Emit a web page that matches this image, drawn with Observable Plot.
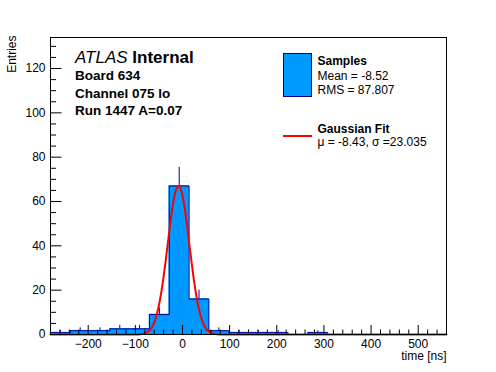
<!DOCTYPE html>
<html><head><meta charset="utf-8">
<script src="https://cdn.jsdelivr.net/npm/d3@7"></script>
<script src="https://cdn.jsdelivr.net/npm/@observablehq/plot@0.6"></script>
<style>
html,body{margin:0;padding:0;background:#fff;}
#chart{width:496px;height:372px;position:relative;}
svg{font-family:"Liberation Sans",Arial,Helvetica,sans-serif;}
</style></head><body><div id="chart"></div>
<script>
// Histogram bins (edges in ns) and contents
const binEdges = [-280,-238,-196,-154,-112,-70,-28,14,56,98,140,182,224,266,308,350,392,434,476,518,560];
const binCounts = [0.85,1.7,1.7,2.55,2.55,9,67,16,1.7,0.85,0.85,0.85,0,0.85,0,0,0,0,0,0];
const binErrors = [0.9,1.3,1.3,1.6,1.6,3,8.4,4,1.3,0.9,0.9,0.9,0,0.9,0,0,0,0,0,0];
// Gaussian fit curve
const fitX = [-280,-120,-100,-90,-80,-70,-65,-60,-55,-50,-45,-40,-35,-30,-25,-20,-15,-10,-8.43,-5,0,5,10,15,20,25,30,35,40,45,50,55,60,65,70,80,90,100,560];
const fitY = [0,0,0.03,0.13,0.54,1.88,3.29,5.47,8.67,13.2,19.0,26.2,34.4,43.2,51.7,59.1,64.3,66.8,67,66.3,62.7,56.5,48.6,39.9,31.3,23.4,16.7,11.3,7.35,4.55,2.68,1.51,0.81,0.42,0.2,0.04,0.01,0,0];
// Axis ticks
const xMajorTicks = [-200,-100,0,100,200,300,400,500];
const xMinorTicks = d3.range(-280, 561, 20).filter(v => v % 100 !== 0);
const yMajorTicks = [0,20,40,60,80,100,120];
const yMinorTicks = d3.range(0, 134, 5).filter(v => v % 20 !== 0);
// Texts
const atlasLines = ["Board 634","Channel 075 lo","Run 1447 A=0.07"];
const legendSamples = ["Samples","Mean = -8.52","RMS = 87.807"];
const legendFit = ["Gaussian Fit","μ = -8.43, σ =23.035"];

const fillColor = "#0099ff", lineColor = "#000099", fitColor = "#ff0000";
const W = 496, H = 372, mL = 50, mR = 50, mT = 37, mB = 38;
const fw = W - mL - mR, fh = H - mT - mB;

const bins = binCounts.map((c, i) => ({x1: binEdges[i], x2: binEdges[i+1], y: c, err: binErrors[i], xc: (binEdges[i] + binEdges[i+1]) / 2}));
const outline = [{x: binEdges[0], y: 0}, ...bins.map(b => ({x: b.x1, y: b.y})), {x: binEdges[binEdges.length-1], y: binCounts[binCounts.length-1]}, {x: binEdges[binEdges.length-1], y: 0}];
const fit = fitX.map((x, i) => ({x, y: fitY[i]}));
const fmt = d3.format("d");

const plot = Plot.plot({
  width: W, height: H,
  marginLeft: mL, marginRight: mR, marginTop: mT, marginBottom: mB,
  x: {domain: [binEdges[0], binEdges[binEdges.length-1]], axis: null},
  y: {domain: [0, 134], axis: null},
  style: {fontFamily: "'Liberation Sans', Arial, Helvetica, sans-serif", background: "#fff"},
  marks: [
    Plot.ruleX(bins.filter(b => b.err > 0), {x: "xc", y1: b => Math.max(0, b.y - b.err), y2: b => b.y + b.err, stroke: lineColor, strokeWidth: 1}),
    Plot.rect(bins, {x1: "x1", x2: "x2", y1: () => 0, y2: "y", fill: fillColor, stroke: fillColor, strokeWidth: 0.6}),
    Plot.line(outline, {x: "x", y: "y", curve: "step-after", stroke: lineColor, strokeWidth: 1}),
    Plot.line(fit, {x: "x", y: "y", curve: "monotone-x", stroke: fitColor, strokeWidth: 2}),
    Plot.ruleX(xMajorTicks, {x: d => d, insetTop: fh - 9, stroke: "black"}),
    Plot.ruleX(xMinorTicks, {x: d => d, insetTop: fh - 4.5, stroke: "black"}),
    Plot.ruleY(yMajorTicks, {y: d => d, insetRight: fw - 11.5, stroke: "black"}),
    Plot.ruleY(yMinorTicks, {y: d => d, insetRight: fw - 6, stroke: "black"}),
    Plot.text(xMajorTicks, {x: d => d, frameAnchor: "bottom", dy: 13, lineAnchor: "bottom", text: d => fmt(d), fontSize: 12, fill: "black"}),
    Plot.text(yMajorTicks, {y: d => d, frameAnchor: "left", dx: -5, textAnchor: "end", text: d => fmt(d), fontSize: 12, fill: "black"}),
    Plot.text(["Entries"], {frameAnchor: "top-left", dx: 12 - mL, dy: -2, rotate: -90, textAnchor: "end", lineAnchor: "middle", text: d => d, fontSize: 12, fill: "black"}),
    Plot.text(["time [ns]"], {frameAnchor: "bottom-right", dy: 25.5, textAnchor: "end", lineAnchor: "bottom", text: d => d, fontSize: 12, fill: "black"}),
    Plot.frame({stroke: "black", strokeWidth: 1})
  ]
});
document.getElementById("chart").appendChild(plot);

const svg = d3.select(plot);
const g = svg.append("g").attr("fill", "black").attr("text-anchor", "start").attr("font-family", "'Liberation Sans', Arial, Helvetica, sans-serif");
const t = g.append("text").attr("x", 75).attr("y", 63).attr("font-size", 17);
t.append("tspan").attr("font-style", "italic").text("ATLAS");
t.append("tspan").attr("font-weight", "bold").text(" Internal");
atlasLines.forEach((s, i) => {
  g.append("text").attr("x", 75).attr("y", 80 + i * 17.5).attr("font-size", 13.5).attr("font-weight", "bold").text(s);
});
// legend
g.append("rect").attr("x", 283.5).attr("y", 53.5).attr("width", 28).attr("height", 43).attr("fill", fillColor).attr("stroke", lineColor);
legendSamples.forEach((s, i) => {
  g.append("text").attr("x", 317.5).attr("y", [65, 80, 94][i]).attr("font-size", 12).attr("font-weight", i === 0 ? "bold" : null).text(s);
});
g.append("line").attr("x1", 283).attr("x2", 312).attr("y1", 136).attr("y2", 136).attr("stroke", fitColor).attr("stroke-width", 2);
legendFit.forEach((s, i) => {
  g.append("text").attr("x", 317.5).attr("y", [133, 145.5][i]).attr("font-size", 12).attr("font-weight", i === 0 ? "bold" : null).text(s);
});
</script>
</body></html>
